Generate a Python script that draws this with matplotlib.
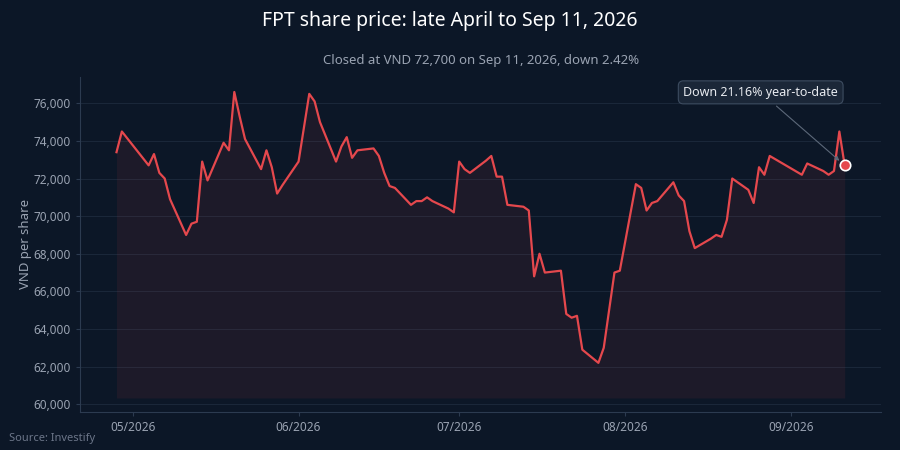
import matplotlib
matplotlib.use("Agg")
import matplotlib.pyplot as plt
import matplotlib.dates as mdates
import matplotlib.ticker as mticker
import pandas as pd

# daily closes (trading days)
dates = [
    "2026-04-28", "2026-04-29", "2026-05-04", "2026-05-05", "2026-05-06", "2026-05-07", "2026-05-08",
    "2026-05-11", "2026-05-12", "2026-05-13", "2026-05-14", "2026-05-15",
    "2026-05-18", "2026-05-19", "2026-05-20", "2026-05-21", "2026-05-22",
    "2026-05-25", "2026-05-26", "2026-05-27", "2026-05-28", "2026-05-29",
    "2026-06-01", "2026-06-02", "2026-06-03", "2026-06-04", "2026-06-05",
    "2026-06-08", "2026-06-09", "2026-06-10", "2026-06-11", "2026-06-12",
    "2026-06-15", "2026-06-16", "2026-06-17", "2026-06-18", "2026-06-19",
    "2026-06-22", "2026-06-23", "2026-06-24", "2026-06-25", "2026-06-26",
    "2026-06-29", "2026-06-30", "2026-07-01", "2026-07-02", "2026-07-03",
    "2026-07-06", "2026-07-07", "2026-07-08", "2026-07-09", "2026-07-10",
    "2026-07-13", "2026-07-14", "2026-07-15", "2026-07-16", "2026-07-17",
    "2026-07-20", "2026-07-21", "2026-07-22", "2026-07-23", "2026-07-24",
    "2026-07-27", "2026-07-28", "2026-07-29", "2026-07-30", "2026-07-31",
    "2026-08-03", "2026-08-04", "2026-08-05", "2026-08-06", "2026-08-07",
    "2026-08-10", "2026-08-11", "2026-08-12", "2026-08-13", "2026-08-14",
    "2026-08-17", "2026-08-18", "2026-08-19", "2026-08-20", "2026-08-21",
    "2026-08-24", "2026-08-25", "2026-08-26", "2026-08-27", "2026-08-28",
    "2026-08-31", "2026-09-03", "2026-09-04",
    "2026-09-07", "2026-09-08", "2026-09-09", "2026-09-10", "2026-09-11",
]
prices = [
    73400, 74500, 72700, 73300, 72300, 72000, 70900,
    69000, 69600, 69700, 72900, 71900,
    73900, 73500, 76600, 75300, 74100,
    72500, 73500, 72600, 71200, 71650,
    72900, 74700, 76500, 76100, 75000,
    72900, 73700, 74200, 73100, 73500,
    73600, 73200, 72300, 71600, 71500,
    70600, 70800, 70800, 71000, 70800,
    70400, 70200, 72900, 72500, 72300,
    72950, 73200, 72100, 72100, 70600,
    70500, 70300, 66800, 68000, 67000,
    67100, 64800, 64600, 64700, 62900,
    62200, 63000, 65000, 67000, 67100,
    71700, 71500, 70300, 70700, 70800,
    71800, 71100, 70800, 69200, 68300,
    68800, 69000, 68900, 69800, 72000,
    71400, 70700, 72600, 72200, 73200,
    72700, 72200, 72800,
    72400, 72200, 72400, 74500, 72700,
]

title = "FPT share price: late April to Sep 11, 2026"
subtitle = "Closed at VND 72,700 on Sep 11, 2026, down 2.42%"
note = "Down 21.16% year-to-date"
source = "Source: Investify"

BG = "#0c1727"
RED = "#e5484d"
MUTED = "#9aa3b2"
GRID = "#1a2739"
SPINE = "#2c3b50"

plt.rcParams["font.family"] = ["Noto Sans", "DejaVu Sans"]

x = pd.to_datetime(dates)

fig = plt.figure(figsize=(9, 4.5), dpi=100, facecolor=BG)
ax = fig.add_axes([0.089, 0.085, 0.890, 0.744])
ax.set_facecolor(BG)

base = 60330
ax.fill_between(x, prices, base, color=RED, alpha=0.08, linewidth=0)
ax.plot(x, prices, color=RED, linewidth=1.6, zorder=3)
ax.plot(x[-1], prices[-1], "o", ms=7.5, mfc=RED, mec="white", mew=1.2, zorder=4)

ax.set_ylim(59600, 77400)
ax.yaxis.set_major_locator(mticker.MultipleLocator(2000))
ax.yaxis.set_major_formatter(mticker.FuncFormatter(lambda v, p: f"{v:,.0f}"))
ax.xaxis.set_major_locator(mdates.MonthLocator())
ax.xaxis.set_major_formatter(mdates.DateFormatter("%m/%Y"))

ax.grid(axis="y", color=GRID, linewidth=0.8)
ax.grid(axis="x", visible=False)
ax.set_axisbelow(True)
for s in ["top", "right"]:
    ax.spines[s].set_visible(False)
for s in ["left", "bottom"]:
    ax.spines[s].set_color(SPINE)
ax.tick_params(colors=MUTED, labelsize=8.5, length=3, width=0.8)
ax.tick_params(axis="both", color=SPINE)

ax.set_ylabel("VND per share", color=MUTED, fontsize=9.5, labelpad=1)

fig.suptitle(title, color="white", fontsize=14, y=0.975)
ax.set_title(subtitle, color=MUTED, fontsize=9.5, pad=9)

ax.annotate(note, xy=(x[-1], prices[-1]), xytext=(-84, 73), textcoords="offset pixels",
            ha="center", va="center", color="#e8ebf0", fontsize=9,
            bbox=dict(boxstyle="round,pad=0.4", fc="#1b2738", ec="#3d4c60", lw=0.8),
            arrowprops=dict(arrowstyle="-|>", color="#5c6879", lw=0.8, shrinkB=5, mutation_scale=6))

fig.text(0.01, 0.02, source, color="#6c7689", fontsize=8)

fig.savefig("out.png", dpi=100, facecolor=BG)
